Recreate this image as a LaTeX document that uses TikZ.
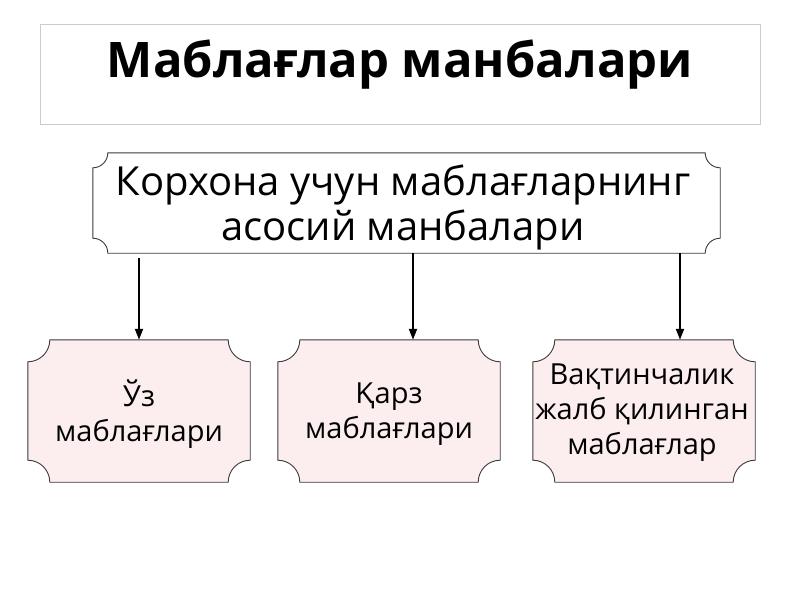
\documentclass[tikz,border=0pt]{standalone}
\usepackage{fontspec}
\setmainfont{Open Sans}
\usetikzlibrary{arrows.meta,backgrounds,calc}
\definecolor{pinkfill}{HTML}{FCEEEE}
\definecolor{edge}{HTML}{3A3A3A}
\newcommand\plaque[3]{%
  \draw[#3] let \p1=(#1.north west), \p2=(#1.south east) in
  (\x1+#2,\y1) -- (\x2-#2,\y1) arc[start angle=180,end angle=270,radius=#2]
  -- (\x2,\y2+#2) arc[start angle=90,end angle=180,radius=#2]
  -- (\x1+#2,\y2) arc[start angle=0,end angle=90,radius=#2]
  -- (\x1,\y1-#2) arc[start angle=270,end angle=360,radius=#2] -- cycle;}
\tikzset{
  shapebox/.style={rectangle,inner sep=0pt,draw=none},
  lowerbox/.style={shapebox,minimum width=222pt,minimum height=142pt},
  lowertext/.style={align=center,inner sep=0pt,font=\fontsize{29}{35}\selectfont},
  maintext/.style={align=center,inner sep=0pt,font=\fontsize{40}{45}\selectfont},
  titletext/.style={inner sep=0pt,anchor=base,font=\fontsize{49}{56}\selectfont\bfseries},
  arr/.style={line width=2pt,-{Triangle[length=11pt,width=8pt]}},
  outline/.style={draw=edge,line width=0.9pt},
}
\begin{document}
\begin{tikzpicture}[x=1pt,y=-1pt]
\useasboundingbox (0,0) rectangle (800,600);
% title
\node[shapebox,minimum width=720pt,minimum height=100pt,draw=black!20,line width=1pt] (titlebox) at (400,74) {};
\node[titletext] (title) at (400,77) {Маблағлар манбалари};
% main box
\node[shapebox,minimum width=627pt,minimum height=100pt] (main) at (406.5,203) {};
\node[maintext] (maint) at (403,207) {Корхона учун маблағларнинг\\асосий манбалари};
% lower boxes
\node[lowerbox] (b1) at (139,411) {};
\node[lowerbox] (b2) at (389,411) {};
\node[lowerbox] (b3) at (644,411) {};
\node[lowertext] (t1) at (139,414) {Ўз\\маблағлари};
\node[lowertext] (t2) at (389,414) {Қарз\\маблағлари};
\node[lowertext] (t3) at (642,413) {Вақтинчалик\\жалб қилинган\\маблағлар};
\begin{scope}[on background layer]
  \plaque{main}{15pt}{outline,fill=white}
  \plaque{b1}{22pt}{outline,fill=pinkfill}
  \plaque{b2}{22pt}{outline,fill=pinkfill}
  \plaque{b3}{22pt}{outline,fill=pinkfill}
\end{scope}
% arrows
\coordinate (a1) at (b1.north);
\coordinate (a2) at ([xshift=24pt]b2.north);
\coordinate (a3) at ([xshift=36pt]b3.north);
\draw[arr] ([yshift=-5pt]main.south -| a1) -- (a1);
\draw[arr] (main.south -| a2) -- (a2);
\draw[arr] (main.south -| a3) -- (a3);
\end{tikzpicture}
\end{document}
